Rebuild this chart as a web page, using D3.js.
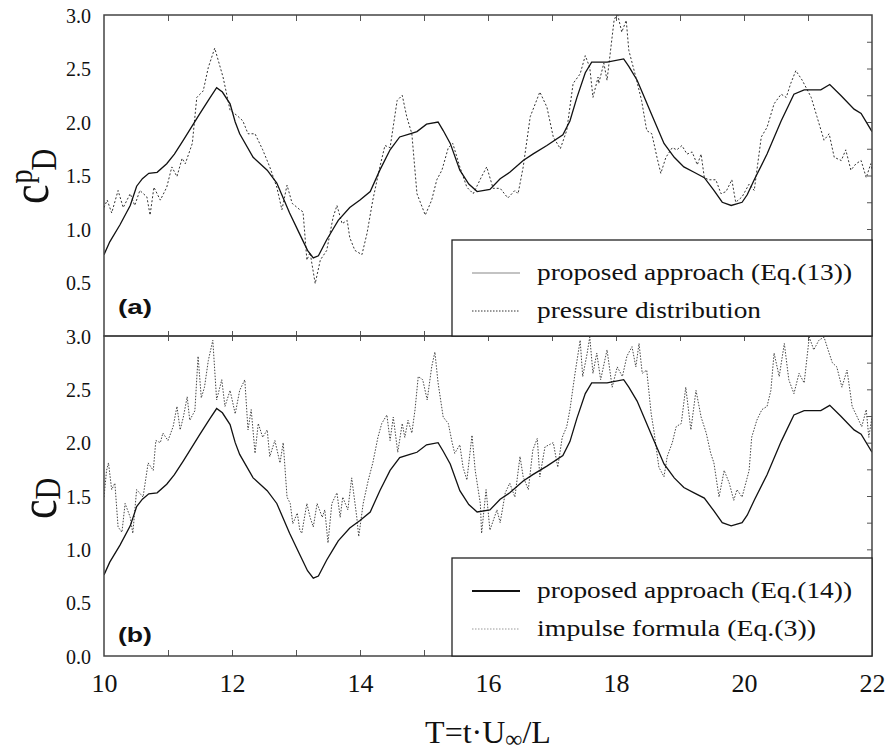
<!DOCTYPE html>
<html><head><meta charset="utf-8">
<script src="https://cdn.jsdelivr.net/npm/d3@7"></script>
<style>
body{margin:0;background:#fff;}
svg{display:block;}
</style></head><body>
<svg id="c" width="894" height="751"></svg>
<script>
// ---------- data ----------
const xTicks = [10,12,14,16,18,20,22];
const yTicksA = [0.5,1.0,1.5,2.0,2.5,3.0];
const yTicksB = [0.0,0.5,1.0,1.5,2.0,2.5,3.0];
const legendA = ["proposed approach (Eq.(13))","pressure distribution"];
const legendB = ["proposed approach (Eq.(14))","impulse formula (Eq.(3))"];

// proposed approach (solid), same in both panels
const proposed = [[10.0,0.76],[10.09,0.88],[10.25,1.04],[10.41,1.22],[10.51,1.40],[10.6,1.47],[10.7,1.52],[10.83,1.53],[10.98,1.61],[11.1,1.70],[11.24,1.83],[11.5,2.08],[11.65,2.22],[11.76,2.32],[11.85,2.28],[11.97,2.17],[12.05,2.00],[12.12,1.89],[12.33,1.67],[12.55,1.55],[12.7,1.43],[12.9,1.15],[13.06,0.95],[13.18,0.80],[13.27,0.73],[13.35,0.75],[13.48,0.90],[13.58,1.00],[13.66,1.08],[13.84,1.20],[14.0,1.27],[14.16,1.35],[14.31,1.55],[14.47,1.74],[14.62,1.86],[14.78,1.89],[14.89,1.91],[15.04,1.98],[15.22,2.00],[15.3,1.92],[15.41,1.80],[15.56,1.55],[15.7,1.42],[15.83,1.35],[16.03,1.37],[16.19,1.47],[16.34,1.53],[16.55,1.64],[16.7,1.70],[16.92,1.78],[17.17,1.88],[17.28,2.01],[17.39,2.23],[17.52,2.46],[17.62,2.56],[17.86,2.56],[18.12,2.59],[18.2,2.52],[18.33,2.39],[18.55,2.08],[18.75,1.80],[18.91,1.67],[19.06,1.58],[19.22,1.53],[19.38,1.48],[19.53,1.36],[19.66,1.25],[19.8,1.22],[19.97,1.25],[20.05,1.32],[20.16,1.46],[20.36,1.70],[20.58,2.01],[20.78,2.26],[20.94,2.30],[21.2,2.30],[21.34,2.35],[21.51,2.25],[21.72,2.12],[21.83,2.08],[22.0,1.91]];

// pressure distribution (dotted, panel a)
const pressure = [[10.0,1.20],[10.05,1.27],[10.12,1.15],[10.22,1.36],[10.3,1.20],[10.41,1.33],[10.48,1.22],[10.56,1.36],[10.67,1.30],[10.72,1.13],[10.78,1.39],[10.88,1.27],[10.98,1.39],[11.06,1.58],[11.14,1.49],[11.22,1.66],[11.27,1.61],[11.38,1.80],[11.45,2.23],[11.55,2.29],[11.63,2.51],[11.73,2.69],[11.86,2.42],[11.97,2.11],[12.08,2.06],[12.17,2.01],[12.25,1.89],[12.36,1.89],[12.48,1.74],[12.59,1.58],[12.7,1.39],[12.78,1.18],[12.86,1.41],[12.94,1.24],[13.06,1.18],[13.11,1.16],[13.17,0.71],[13.22,0.78],[13.3,0.49],[13.38,0.71],[13.48,0.80],[13.58,1.11],[13.64,1.22],[13.72,1.05],[13.8,1.08],[13.84,0.92],[13.92,0.80],[14.03,0.76],[14.11,0.96],[14.2,1.27],[14.31,1.58],[14.39,1.78],[14.47,1.76],[14.58,2.20],[14.66,2.25],[14.73,2.05],[14.81,1.89],[14.89,1.33],[15.02,1.13],[15.12,1.27],[15.2,1.46],[15.28,1.55],[15.38,1.76],[15.45,1.80],[15.56,1.58],[15.67,1.39],[15.77,1.33],[15.9,1.49],[15.98,1.58],[16.08,1.38],[16.19,1.38],[16.31,1.29],[16.42,1.36],[16.47,1.33],[16.55,1.58],[16.66,2.05],[16.81,2.28],[16.92,2.14],[17.02,1.86],[17.13,1.75],[17.23,1.92],[17.33,2.36],[17.44,2.45],[17.52,2.62],[17.59,2.51],[17.64,2.23],[17.72,2.42],[17.73,2.36],[17.81,2.55],[17.86,2.39],[17.97,2.95],[18.02,3.02],[18.09,2.84],[18.16,2.95],[18.2,2.67],[18.31,2.42],[18.4,2.20],[18.48,1.92],[18.56,1.89],[18.64,1.67],[18.7,1.52],[18.78,1.67],[18.88,1.76],[18.95,1.74],[19.03,1.78],[19.11,1.70],[19.19,1.72],[19.27,1.60],[19.33,1.70],[19.38,1.48],[19.45,1.46],[19.56,1.46],[19.64,1.33],[19.72,1.35],[19.81,1.46],[19.87,1.25],[19.97,1.30],[20.08,1.42],[20.16,1.36],[20.27,1.86],[20.36,1.95],[20.47,2.17],[20.58,2.26],[20.66,2.23],[20.73,2.36],[20.81,2.48],[20.91,2.39],[21.05,2.23],[21.14,2.05],[21.25,1.83],[21.33,1.89],[21.41,1.67],[21.52,1.64],[21.59,1.74],[21.67,1.55],[21.75,1.61],[21.83,1.64],[21.91,1.48],[21.98,1.61],[22.0,1.55]];

// impulse formula (dotted, panel b)
const impulse = [[10.0,1.49],[10.04,1.74],[10.07,1.81],[10.12,1.56],[10.17,1.62],[10.22,1.21],[10.28,1.16],[10.33,1.43],[10.41,1.30],[10.45,1.15],[10.51,1.56],[10.61,1.49],[10.69,1.81],[10.77,1.74],[10.81,2.02],[10.88,2.00],[10.92,2.09],[11.0,2.02],[11.08,2.15],[11.14,2.34],[11.19,2.12],[11.24,2.24],[11.3,2.43],[11.34,2.21],[11.42,2.30],[11.47,2.81],[11.52,2.42],[11.57,2.52],[11.63,2.77],[11.7,2.96],[11.76,2.40],[11.84,2.59],[11.89,2.34],[11.97,2.49],[12.05,2.27],[12.12,2.49],[12.2,2.59],[12.25,2.12],[12.3,2.31],[12.36,1.90],[12.41,2.18],[12.48,2.05],[12.55,2.12],[12.59,1.87],[12.67,2.02],[12.75,1.81],[12.8,2.00],[12.86,1.49],[12.91,1.43],[12.95,1.24],[13.02,1.34],[13.06,1.18],[13.09,1.15],[13.17,1.43],[13.22,1.30],[13.27,1.21],[13.33,1.43],[13.41,1.30],[13.45,1.37],[13.5,1.06],[13.56,1.43],[13.64,1.53],[13.69,1.30],[13.73,1.49],[13.81,1.37],[13.87,1.67],[13.95,1.30],[13.98,1.12],[14.05,1.43],[14.13,1.65],[14.2,1.81],[14.28,2.05],[14.34,2.18],[14.42,2.26],[14.47,2.02],[14.52,2.24],[14.59,1.91],[14.66,2.18],[14.7,2.05],[14.75,2.21],[14.81,2.09],[14.86,2.31],[14.91,2.62],[14.98,2.59],[15.05,2.40],[15.12,2.71],[15.17,2.85],[15.22,2.56],[15.3,2.24],[15.38,2.18],[15.44,2.00],[15.48,1.90],[15.56,1.98],[15.61,1.77],[15.67,1.65],[15.75,2.07],[15.8,1.74],[15.88,1.43],[15.9,1.15],[15.97,1.56],[16.03,1.18],[16.14,1.37],[16.19,1.25],[16.27,1.53],[16.34,1.62],[16.42,1.49],[16.5,1.87],[16.55,1.68],[16.63,1.56],[16.7,1.93],[16.77,2.04],[16.81,1.68],[16.89,1.96],[17.02,2.00],[17.09,1.77],[17.16,2.05],[17.23,2.15],[17.28,2.31],[17.36,2.65],[17.44,2.96],[17.48,2.62],[17.55,2.84],[17.59,2.99],[17.64,2.65],[17.7,2.84],[17.76,2.59],[17.86,2.87],[17.94,2.52],[18.02,2.71],[18.1,2.62],[18.17,2.81],[18.25,2.90],[18.31,2.71],[18.36,2.93],[18.41,2.65],[18.48,2.68],[18.55,2.27],[18.59,2.12],[18.67,1.77],[18.75,1.68],[18.8,1.87],[18.88,2.00],[18.94,2.15],[19.02,2.18],[19.09,2.52],[19.17,2.12],[19.25,2.49],[19.33,2.24],[19.41,2.09],[19.48,1.90],[19.53,1.81],[19.61,1.49],[19.69,1.74],[19.77,1.62],[19.84,1.46],[19.89,1.56],[19.97,1.49],[20.08,1.74],[20.12,2.05],[20.2,2.21],[20.28,2.31],[20.36,2.34],[20.42,2.49],[20.47,2.84],[20.55,2.62],[20.63,2.93],[20.7,2.59],[20.78,2.46],[20.86,2.65],[20.94,2.56],[21.02,2.99],[21.09,2.87],[21.17,2.96],[21.25,2.99],[21.33,2.84],[21.38,2.75],[21.45,2.71],[21.53,2.52],[21.61,2.68],[21.69,2.34],[21.77,2.24],[21.84,2.15],[21.91,2.31],[21.95,2.05],[22.0,2.24]];

const SERIF = '"Liberation Serif", "Times New Roman", serif';
const SANS = '"Liberation Sans", Arial, sans-serif';

// ---------- layout ----------
const svg = d3.select("#c");
const L = 104, R = 872;
const aTop = 15, aBot = 336, bTop = 336, bBot = 656;
const x = d3.scaleLinear().domain([10,22]).range([L,R]);
const yA = d3.scaleLinear().domain([0,3]).range([aBot,aTop]);
const yB = d3.scaleLinear().domain([0,3]).range([bBot,bTop]);

const defs = svg.append("defs");
defs.append("clipPath").attr("id","clipA").append("rect").attr("x",L).attr("y",aTop).attr("width",R-L).attr("height",aBot-aTop);
defs.append("clipPath").attr("id","clipB").append("rect").attr("x",L).attr("y",bTop).attr("width",R-L).attr("height",bBot-bTop);

function panel(y, clip, dotted, dotStyle, yTicks){
  const g = svg.append("g");
  const line = d3.line().x(d=>x(d[0])).y(d=>y(d[1]));
  const c = g.append("g").attr("clip-path",`url(#${clip})`);
  c.append("path").datum(dotted).attr("d",line).attr("fill","none")
    .attr("stroke",dotStyle.color).attr("stroke-width",dotStyle.w).attr("stroke-dasharray",dotStyle.dash);
  c.append("path").datum(proposed).attr("d",line).attr("fill","none")
    .attr("stroke","#111").attr("stroke-width",1.3);
  const rt = g.append("g").attr("transform",`translate(${R},0)`)
    .call(d3.axisRight(y).tickValues(d3.range(0.25,2.9,0.25)).tickSize(-5).tickFormat(""));
  rt.select(".domain").remove();
  rt.selectAll("line").attr("stroke","#555");
  const lt = g.append("g").attr("transform",`translate(${L},0)`)
    .call(d3.axisLeft(y).tickValues(yTicks).tickSize(0).tickPadding(13).tickFormat(d3.format(".1f")));
  lt.select(".domain").remove();
  lt.selectAll("text").style("font-family",SERIF).attr("font-size",20).attr("fill","#111").attr("dy","0.35em");
}
panel(yA, "clipA", pressure, {color:"#333",w:1,dash:"2,2"}, yTicksA);
panel(yB, "clipB", impulse, {color:"#444",w:1,dash:"1.5,1.5"}, yTicksB);

// x ticks (integer minor ticks)
const xt = d3.range(11,21.5,1);
function xtick(yPos, size, axis){
  const g = svg.append("g").attr("transform",`translate(0,${yPos})`)
    .call(axis(x).tickValues(xt).tickSize(size).tickFormat(""));
  g.select(".domain").remove();
  g.selectAll("line").attr("stroke","#555");
}
xtick(aTop, 6, d3.axisBottom);
xtick(aBot, 5, d3.axisTop);
xtick(bTop, 5, d3.axisBottom);
xtick(bBot, 6, d3.axisTop);

// x labels
const xl = svg.append("g").attr("transform",`translate(0,${bBot})`)
  .call(d3.axisBottom(x).tickValues(xTicks).tickSize(0).tickPadding(0).tickFormat(d3.format("d")));
xl.select(".domain").remove();
xl.selectAll("text").style("font-family",SERIF).attr("font-size",26).attr("fill","#111").attr("dy","36");

// frames
function frame(top, bot){
  svg.append("rect").attr("x",L).attr("y",top).attr("width",R-L).attr("height",bot-top)
    .attr("fill","none").attr("stroke","#444").attr("stroke-width",1.5);
}
frame(aTop,aBot); frame(bTop,bBot);

// legends
function legend(top, bot, labels, widths, solidStyle, dotStyle){
  const lx = 452;
  svg.append("rect").attr("x",lx).attr("y",top).attr("width",R-lx).attr("height",bot-top)
    .attr("fill","#fff").attr("stroke","#222").attr("stroke-width",1.3);
  const rows = [top+33, top+71];
  svg.append("line").attr("x1",472).attr("x2",520).attr("y1",rows[0]).attr("y2",rows[0])
    .attr("stroke",solidStyle.color).attr("stroke-width",solidStyle.w);
  svg.append("line").attr("x1",472).attr("x2",520).attr("y1",rows[1]).attr("y2",rows[1])
    .attr("stroke",dotStyle.color).attr("stroke-width",1).attr("stroke-dasharray","1.5,1.5");
  labels.forEach((t,i)=>{
    svg.append("text").attr("x",537).attr("y",rows[i]+7).style("font-family",SERIF).attr("font-size",23).attr("fill","#111")
      .attr("textLength",widths[i]).attr("lengthAdjust","spacingAndGlyphs").text(t);
  });
}
legend(240, aBot, legendA, [315,224], {color:"#888",w:1.2}, {color:"#333"});
legend(558, bBot, legendB, [315,279], {color:"#111",w:1.8}, {color:"#999"});

// panel tags
[["(a)",314],["(b)",642]].forEach(([t,yy])=>{
  svg.append("text").attr("x",118).attr("y",yy).style("font-family",SANS).attr("font-weight","bold").attr("fill","#111")
    .attr("font-size",21).attr("textLength",34).attr("lengthAdjust","spacingAndGlyphs").text(t);
});

// y titles
const ta = svg.append("text").attr("transform","translate(48,204) scale(1.2,1) rotate(-90)").style("font-family",SERIF).attr("fill","#111");
ta.append("tspan").attr("font-size",44).text("c");
ta.append("tspan").attr("font-size",28).attr("dy",-13).attr("dx",1).text("p");
ta.append("tspan").attr("font-size",30).attr("dy",20).attr("dx",-1).text("D");

const tb = svg.append("text").attr("transform","translate(56,519) scale(1.2,1) rotate(-90)").style("font-family",SERIF).attr("fill","#111");
tb.append("tspan").attr("font-size",44).text("c");
tb.append("tspan").attr("font-size",30).attr("dy",3).text("D");

// x title
const xtT = svg.append("text").attr("x",488).attr("y",743).attr("text-anchor","middle").style("font-family",SERIF).attr("font-size",32).attr("fill","#111");
xtT.append("tspan").text("T=t\u00b7U");
xtT.append("tspan").attr("font-size",24).attr("dy",4).text("\u221e");
xtT.append("tspan").attr("dy",-4).text("/L");
</script>
</body></html>
